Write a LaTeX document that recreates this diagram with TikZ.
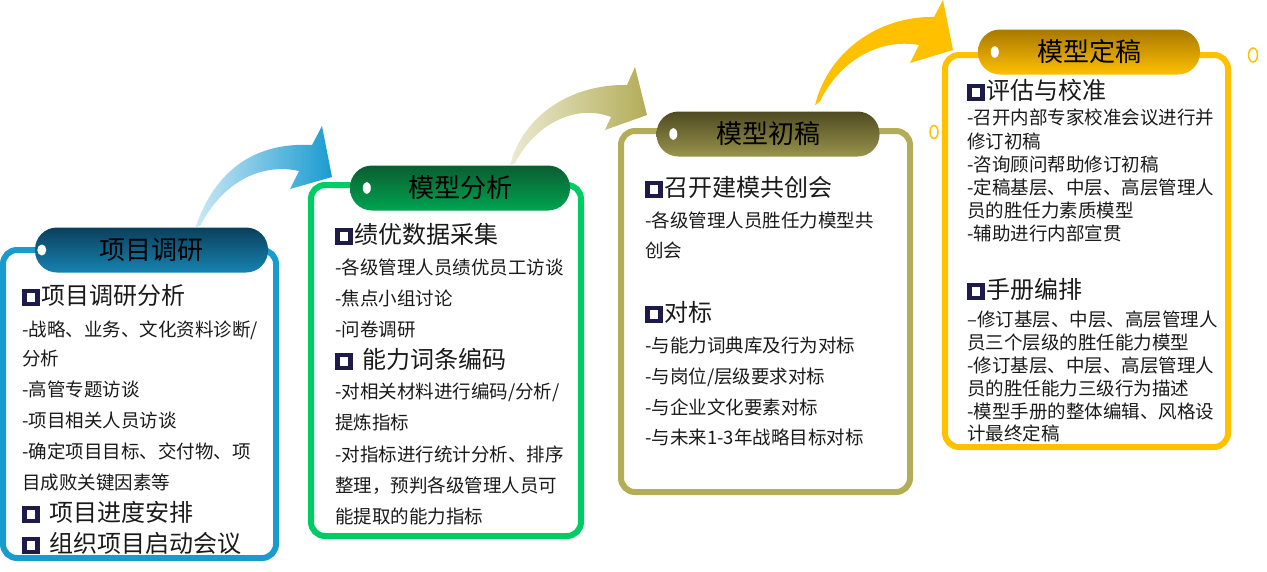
\documentclass[tikz,border=0pt]{standalone}
\usepackage{fontspec}
\setmainfont{Noto Sans CJK SC}

\definecolor{svblue}{HTML}{1A9BD0}
\definecolor{svdark}{HTML}{0B3F5C}
\definecolor{svlight}{HTML}{CBE8F5}
\definecolor{angreen}{HTML}{00CC66}
\definecolor{andark}{HTML}{0A5E30}
\definecolor{drolive}{HTML}{B3AD58}
\definecolor{drdark}{HTML}{4F4B22}
\definecolor{drlight}{HTML}{ECEAD2}
\definecolor{fngold}{HTML}{FFC000}
\definecolor{fndark}{HTML}{A87800}
\definecolor{sqnavy}{HTML}{1E1B4B}
\definecolor{txt}{HTML}{1A1A1A}

\newcommand\sqb{\raisebox{3pt}{\setlength\fboxsep{0pt}\setlength\fboxrule{4.5pt}\fcolorbox{sqnavy}{white}{\rule{0pt}{8.5pt}\rule{8.5pt}{0pt}}}}

\tikzset{
  box/.style={draw,line width=6pt,rounded corners=14pt,fill=white,inner sep=0pt},
  pill/.style={rounded corners=22pt,minimum height=45pt,inner sep=0pt,text=black,
    font=\fontsize{26}{30}\selectfont},
  ln/.style={anchor=west,inner sep=0pt,text=txt,text height=15.5pt,text depth=2.5pt,
    font=\fontsize{18.5}{22}\selectfont},
  hd/.style={ln,text height=19pt,text depth=2pt,font=\fontsize{24}{28}\selectfont}
}

\begin{document}
\begin{tikzpicture}[x=1pt,y=-1pt]

        \useasboundingbox (0,0) rectangle (1267,571);

        \node[box,draw=svblue,minimum width=273pt,minimum height=308pt]  (survey)   at (139.5,404)  {};
        \node[box,draw=angreen,minimum width=270pt,minimum height=351pt] (analysis) at (446,360.5)  {};
        \node[box,draw=drolive,minimum width=289pt,minimum height=361pt] (draft)    at (765.5,311.5) {};
        \node[box,draw=fngold,minimum width=283pt,minimum height=392pt]  (final)    at (1086.5,251) {};

        \node[pill,minimum width=233pt,top color=svdark,middle color=svblue,bottom color=svblue!85!black]    (t1) at (151.5,250) {项目调研};
        \node[pill,minimum width=220pt,top color=andark,middle color=angreen!90!black,bottom color=angreen!80!black] (t2) at (460,188) {模型分析};
        \node[pill,minimum width=223pt,top color=drdark,middle color=drolive,bottom color=drolive!85!black] (t3) at (768,134) {模型初稿};
        \node[pill,minimum width=222pt,top color=fndark,middle color=fngold!95!black,bottom color=fngold]   (t4) at (1089,52) {模型定稿};

        \fill[white] ([xshift=7pt]t1.west)  ellipse (4.5pt and 5.5pt);
        \fill[white] ([xshift=17pt]t2.west) ellipse (4pt and 6pt);
        \fill[white] ([xshift=17pt]t3.west) ellipse (4pt and 6pt);
        \fill[white] ([xshift=17pt]t4.west) ellipse (4pt and 6pt);

        \draw[fngold,line width=1.5pt,fill=white] (1253,55) ellipse (4.5pt and 7pt);
        \draw[fngold,line width=1.5pt,fill=white] (934,132) ellipse (4pt and 6.5pt);

        \shade[left color=svlight,right color=svblue] ([xshift=44pt]t1.north)
          .. controls (215,170) and (255,142) .. (312,145) -- (322,126) -- (332,177) -- (290,189) -- (299,171)
          .. controls (263,163) and (224,180) .. ([xshift=49pt,yshift=2pt]t1.north) -- cycle;
        \shade[left color=drlight,right color=drolive] ([xshift=50pt]t2.north)
          .. controls (522,118) and (568,84) .. (627,85) -- (635,67) -- (647,115) -- (605,130) -- (611,117)
          .. controls (578,104) and (536,122) .. ([xshift=55pt,yshift=2pt]t2.north) -- cycle;
        \fill[fngold] ([xshift=47pt,yshift=6pt]t3.north)
          .. controls (828,52) and (878,16) .. (934,17) -- (943,0) -- (953,50) -- (910,63) -- (919,45)
          .. controls (880,38) and (840,60) .. ([xshift=52pt,yshift=10pt]t3.north) -- cycle;

        \begin{scope}[every node/.style={ln}]
          \node[hd] (a1) at (22,296) {\sqb\hspace{2pt}项目调研分析};
          \node     (a2) at (22,330) {-战略、业务、文化资料诊断/};
          \node     (a3) at (22,359) {分析};
          \node     (a4) at (22,390) {-高管专题访谈};
          \node     (a5) at (22,421) {-项目相关人员访谈};
          \node     (a6) at (22,452) {-确定项目目标、交付物、项};
          \node     (a7) at (22,483) {目成败关键因素等};
          \node[hd] (a8) at (22,513) {\sqb\hspace{10pt}项目进度安排};
          \node[hd] (a9) at (22,544) {\sqb\hspace{10pt}组织项目启动会议};

          \node[hd] (b1)  at (335,235) {\sqb\hspace{2pt}绩优数据采集};
          \node     (b2)  at (335,268) {-各级管理人员绩优员工访谈};
          \node     (b3)  at (335,299) {-焦点小组讨论};
          \node     (b4)  at (335,330) {-问卷调研};
          \node[hd] (b5)  at (335,360) {\sqb\hspace{10pt}能力词条编码};
          \node     (b6)  at (335,392) {-对相关材料进行编码/分析/};
          \node     (b7)  at (335,423) {提炼指标};
          \node     (b8)  at (335,455) {-对指标进行统计分析、排序};
          \node     (b9)  at (335,486) {整理，预判各级管理人员可};
          \node     (b10) at (335,517) {能提取的能力指标};

          \node[hd] (c1) at (645,188) {\sqb\hspace{2pt}召开建模共创会};
          \node     (c2) at (645,221) {-各级管理人员胜任力模型共};
          \node     (c3) at (645,251) {创会};
          \node[hd] (c4) at (645,313) {\sqb\hspace{2pt}对标};
          \node     (c5) at (645,346) {-与能力词典库及行为对标};
          \node     (c6) at (645,377) {-与岗位/层级要求对标};
          \node     (c7) at (645,408) {-与企业文化要素对标};
          \node     (c8) at (645,438) {-与未来1-3年战略目标对标};

          \node[hd] (d1)  at (967,91)  {\sqb\hspace{2pt}评估与校准};
          \node     (d2)  at (967,118) {-召开内部专家校准会议进行并};
          \node     (d3)  at (967,142) {修订初稿};
          \node     (d4)  at (967,165) {-咨询顾问帮助修订初稿};
          \node     (d5)  at (967,188) {-定稿基层、中层、高层管理人};
          \node     (d6)  at (967,211) {员的胜任力素质模型};
          \node     (d7)  at (967,234) {-辅助进行内部宣贯};
          \node[hd] (d8)  at (967,290) {\sqb\hspace{2pt}手册编排};
          \node     (d9)  at (967,320) {–修订基层、中层、高层管理人};
          \node     (d10) at (967,343) {员三个层级的胜任能力模型};
          \node     (d11) at (967,366) {-修订基层、中层、高层管理人};
          \node     (d12) at (967,389) {员的胜任能力三级行为描述};
          \node     (d13) at (967,412) {-模型手册的整体编辑、风格设};
          \node     (d14) at (967,434) {计最终定稿};
        \end{scope}

      \end{tikzpicture}
\end{document}
